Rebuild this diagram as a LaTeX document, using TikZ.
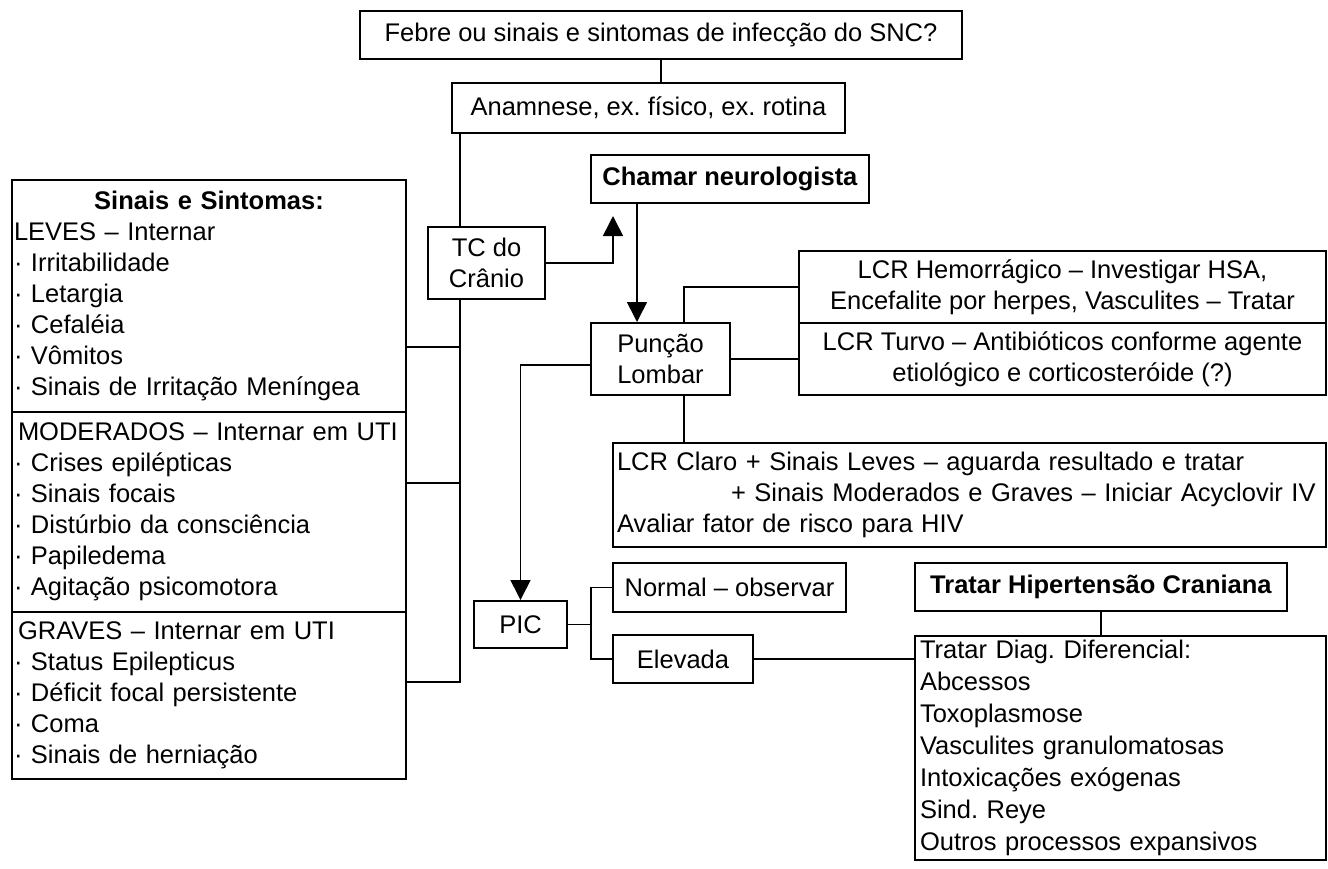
\documentclass[tikz,border=0pt]{standalone}
\usepackage{fontspec}
\setmainfont{Liberation Sans}
\usetikzlibrary{positioning,arrows.meta}
\frenchspacing

\begin{document}
\begin{tikzpicture}[x=1pt,y=-1pt,
    caixa/.style={draw,line width=2pt,inner sep=0pt,align=center,
      font=\fontsize{25.5}{31}\selectfont},
    lista/.style={caixa,align=left,inner xsep=2pt},
    liga/.style={line width=1.6pt},
    seta/.style={liga,-{Triangle[length=20pt,width=20pt]}}]
  \useasboundingbox (0,0) rectangle (1328,868);

  % topo
  \node[caixa,minimum width=602pt,minimum height=48pt] (febre) at (661,35)
    {Febre ou sinais e sintomas de infecção do SNC?};
  \node[caixa,minimum width=393pt,minimum height=50pt] (anam) at (648.5,108)
    {Anamnese, ex. físico, ex. rotina};
  \node[caixa,minimum width=117pt,minimum height=72pt] (tc) at (486.5,263)
    {TC do\\Crânio};
  \node[caixa,minimum width=278pt,minimum height=48pt] (chamar) at (730,179)
    {\textbf{Chamar neurologista}};
  \node[caixa,minimum width=139pt,minimum height=72pt] (puncao) at (660.5,359)
    {Punção\\Lombar};

  % sinais e sintomas
  \node[lista,minimum width=394pt,minimum height=232pt,text width=390pt] (leves) at (209,296)
    {\makebox[390pt]{\textbf{Sinais e Sintomas:}}\\LEVES – Internar\\· Irritabilidade\\· Letargia\\%
     · Cefaléia\\· Vômitos\\· Sinais de Irritação Meníngea};
  \node[lista,minimum width=394pt,minimum height=200pt,text width=390pt] (mod) at (209,512)
    {\hspace*{4pt}MODERADOS – Internar em UTI\\· Crises epilépticas\\· Sinais focais\\%
     · Distúrbio da consciência\\· Papiledema\\· Agitação psicomotora};
  \node[lista,minimum width=394pt,minimum height=167pt,text width=390pt] (graves) at (209,695.5)
    {\hspace*{4pt}GRAVES – Internar em UTI\\· Status Epilepticus\\· Déficit focal persistente\\%
     · Coma\\· Sinais de herniação};

  % LCR
  \node[caixa,minimum width=527pt,minimum height=72pt] (hem) at (1062.5,287)
    {LCR Hemorrágico – Investigar HSA,\\Encefalite por herpes, Vasculites – Tratar};
  \node[caixa,minimum width=527pt,minimum height=72pt] (turvo) at (1062.5,359)
    {LCR Turvo – Antibióticos conforme agente\\etiológico e corticosteróide (?)};
  \node[lista,inner xsep=4pt,minimum width=713pt,minimum height=104pt,text width=705pt] (claro) at (969.5,495)
    {LCR Claro + Sinais Leves – aguarda resultado e tratar\\%
     \hspace*{114pt}+ Sinais Moderados e Graves – Iniciar Acyclovir IV\\%
     Avaliar fator de risco para HIV};

  % PIC
  \node[caixa,minimum width=93pt,minimum height=47pt] (pic) at (520.5,624.5) {PIC};
  \node[caixa,minimum width=233pt,minimum height=49pt] (normal) at (729.5,587.5)
    {Normal – observar};
  \node[caixa,minimum width=140pt,minimum height=48pt] (elevada) at (683,659) {Elevada};
  \node[caixa,minimum width=372pt,minimum height=48pt] (hiper) at (1101,587)
    {\textbf{Tratar Hipertensão Craniana}};
  \node[lista,inner xsep=5pt,minimum width=411pt,minimum height=224pt,text width=401pt,
    font=\fontsize{25.5}{32}\selectfont] (diag) at (1120.5,748)
    {Tratar Diag. Diferencial:\\Abcessos\\Toxoplasmose\\Vasculites granulomatosas\\%
     Intoxicações exógenas\\Sind. Reye\\Outros processos expansivos};

  % ligacoes
  \coordinate (tronco) at (460,682);
  \coordinate (r1) at (460,347);
  \coordinate (r2) at (460,483);
  \coordinate (tcseta) at (613,216);
  \coordinate (desce) at (637,0);
  \coordinate (sobe) at (684,0);
  \draw[liga] (febre.south) -- (febre.south |- anam.north);
  \draw[liga] (anam.south -| tronco) -- (tc.north -| tronco);
  \draw[liga] (tc.south -| tronco) -- (tronco) -- (tronco -| graves.east);
  \foreach \r/\s in {r1/leves,r2/mod}
    \draw[liga] (\r) -- (\r -| \s.east);
  \draw[seta] (tc.east) -| (tcseta);
  \draw[seta] (chamar.south -| desce) -- (puncao.north -| desce);
  \draw[liga] (puncao.north -| sobe) |- (hem.west);
  \draw[liga] (puncao.east) -- (turvo.west);
  \draw[liga] (puncao.south -| sobe) -- (claro.north -| sobe);
  \draw[seta] ([yshift=-6pt]puncao.west) -| (pic.north);
  \draw[liga] (pic.east) -- ++(23,0) coordinate (picj) |- (normal.west);
  \draw[liga] (picj) |- (elevada.west);
  \draw[liga] (elevada.east) -- (elevada.east -| diag.west);
  \draw[liga] (hiper.south) -- (hiper.south |- diag.north);
\end{tikzpicture}
\end{document}
